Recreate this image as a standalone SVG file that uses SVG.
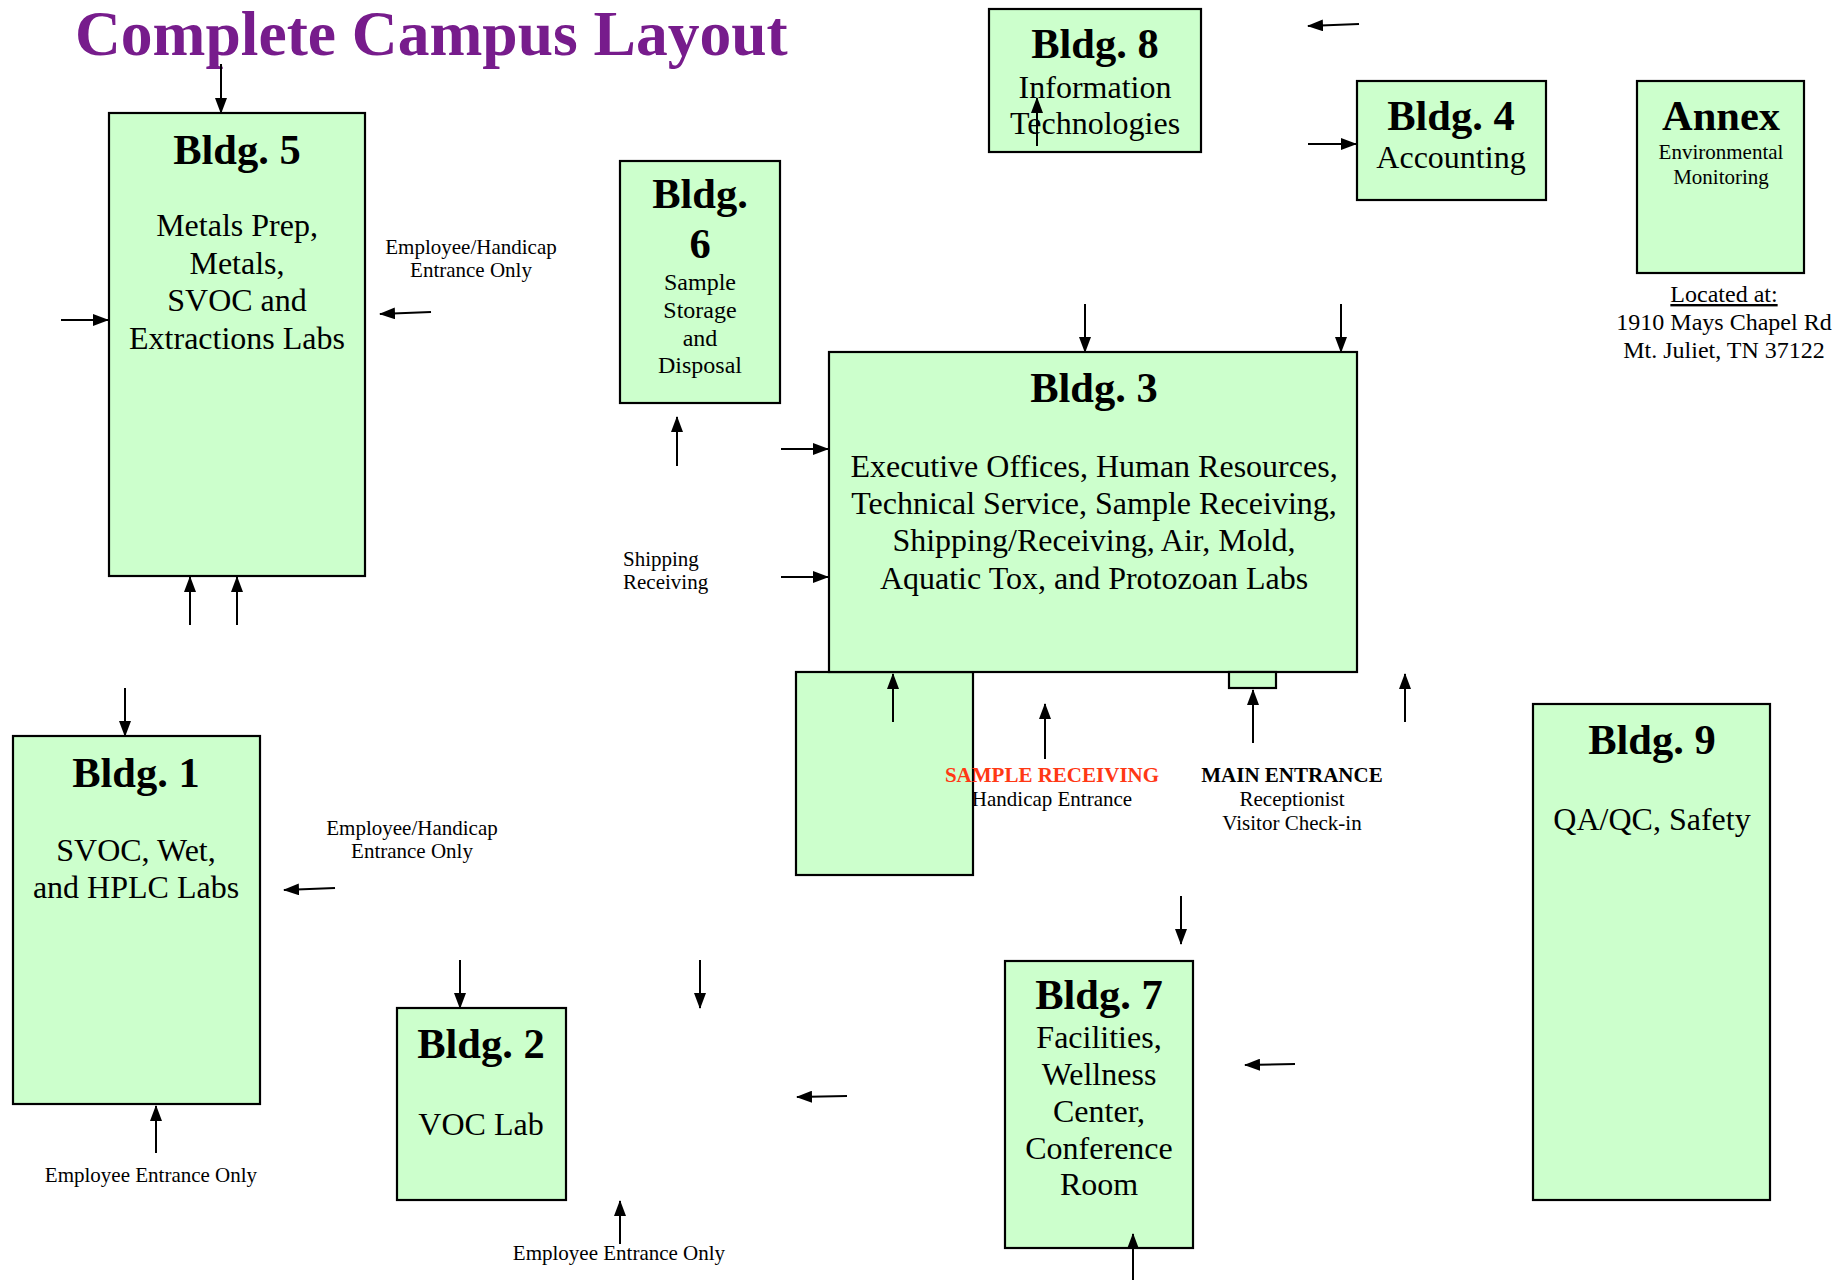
<svg xmlns="http://www.w3.org/2000/svg" width="1836" height="1280" viewBox="0 0 1836 1280">
<style>
.bld{fill:#CCFFCC;stroke:#000;stroke-width:2.2}
text{font-family:"Liberation Serif","Times New Roman",serif;fill:#000}
.t{font-size:42.5px;font-weight:bold;text-anchor:middle}
.b{font-size:32px;text-anchor:middle}
.s{font-size:21px;text-anchor:middle}
.m{font-size:24px;text-anchor:middle}
.c line{stroke:#000;stroke-width:2;marker-end:url(#ah)}
</style>
<defs>
<marker id="ah" markerUnits="userSpaceOnUse" markerWidth="16" markerHeight="12" refX="15" refY="6" orient="auto">
<path d="M0,0 L16,6 L0,12 z" fill="#000"/>
</marker>
</defs>
<rect width="1836" height="1280" fill="#fff"/>
<text x="75" y="55" style="font-size:63.5px;font-weight:bold;fill:#771C8C">Complete Campus Layout</text>

<g id="bldg5">
<rect class="bld" x="109" y="113" width="256" height="463"/>
<text class="t" x="237" y="164">Bldg. 5</text>
<text class="b" x="237" y="236">Metals Prep,</text>
<text class="b" x="237" y="274">Metals,</text>
<text class="b" x="237" y="311">SVOC and</text>
<text class="b" x="237" y="349">Extractions Labs</text>
</g>
<g id="bldg6">
<rect class="bld" x="620" y="161" width="160" height="242"/>
<text class="t" x="700" y="208">Bldg.</text>
<text class="t" x="700" y="258">6</text>
<text class="m" x="700" y="290">Sample</text>
<text class="m" x="700" y="318">Storage</text>
<text class="m" x="700" y="346">and</text>
<text class="m" x="700" y="373">Disposal</text>
</g>
<g id="bldg8">
<rect class="bld" x="989" y="9" width="212" height="143"/>
<text class="t" x="1095" y="58">Bldg. 8</text>
<text class="b" x="1095" y="98">Information</text>
<text class="b" x="1095" y="134">Technologies</text>
</g>
<g id="bldg4">
<rect class="bld" x="1357" y="81" width="189" height="119"/>
<text class="t" x="1451" y="130">Bldg. 4</text>
<text class="b" x="1451" y="168">Accounting</text>
</g>
<g id="annex">
<rect class="bld" x="1637" y="81" width="167" height="192"/>
<text class="t" x="1721" y="130">Annex</text>
<text class="s" x="1721" y="159">Environmental</text>
<text class="s" x="1721" y="184">Monitoring</text>
<text class="m" x="1724" y="302" text-decoration="underline">Located at:</text>
<text class="m" x="1724" y="330">1910 Mays Chapel Rd</text>
<text class="m" x="1724" y="358">Mt. Juliet, TN 37122</text>
</g>
<g id="bldg3">
<rect class="bld" x="796" y="672" width="177" height="203"/>
<rect class="bld" x="829" y="352" width="528" height="320"/>
<rect class="bld" x="1229" y="672" width="47" height="16"/>
<text class="t" x="1094" y="402">Bldg. 3</text>
<text class="b" x="1094" y="477">Executive Offices, Human Resources,</text>
<text class="b" x="1094" y="514">Technical Service, Sample Receiving,</text>
<text class="b" x="1094" y="551">Shipping/Receiving, Air, Mold,</text>
<text class="b" x="1094" y="589">Aquatic Tox, and Protozoan Labs</text>
</g>
<g id="bldg9">
<rect class="bld" x="1533" y="704" width="237" height="496"/>
<text class="t" x="1652" y="754">Bldg. 9</text>
<text class="b" x="1652" y="830">QA/QC, Safety</text>
</g>
<g id="bldg7">
<rect class="bld" x="1005" y="961" width="188" height="287"/>
<text class="t" x="1099" y="1009">Bldg. 7</text>
<text class="b" x="1099" y="1048">Facilities,</text>
<text class="b" x="1099" y="1085">Wellness</text>
<text class="b" x="1099" y="1122">Center,</text>
<text class="b" x="1099" y="1159">Conference</text>
<text class="b" x="1099" y="1195">Room</text>
</g>
<g id="bldg1">
<rect class="bld" x="13" y="736" width="247" height="368"/>
<text class="t" x="136" y="787">Bldg. 1</text>
<text class="b" x="136" y="861">SVOC, Wet,</text>
<text class="b" x="136" y="898">and HPLC Labs</text>
</g>
<g id="bldg2">
<rect class="bld" x="397" y="1008" width="169" height="192"/>
<text class="t" x="481" y="1058">Bldg. 2</text>
<text class="b" x="481" y="1135">VOC Lab</text>
</g>

<g id="labels">
<text class="s" x="471" y="254">Employee/Handicap</text>
<text class="s" x="471" y="277">Entrance Only</text>
<text class="s" x="412" y="835">Employee/Handicap</text>
<text class="s" x="412" y="858">Entrance Only</text>
<text class="s" x="151" y="1182">Employee Entrance Only</text>
<text class="s" x="619" y="1260">Employee Entrance Only</text>
<text x="623" y="566" style="font-size:21px">Shipping</text>
<text x="623" y="589" style="font-size:21px">Receiving</text>
<text class="s" x="1052" y="782" style="font-weight:bold;fill:#FF3814">SAMPLE RECEIVING</text>
<text class="s" x="1052" y="806">Handicap Entrance</text>
<text class="s" x="1292" y="782" style="font-weight:bold">MAIN ENTRANCE</text>
<text class="s" x="1292" y="806">Receptionist</text>
<text class="s" x="1292" y="830">Visitor Check-in</text>
</g>

<g id="connectors" class="c">
<line x1="221" y1="64" x2="221" y2="113"/>
<line x1="61" y1="320" x2="108" y2="320"/>
<line x1="431" y1="312" x2="380" y2="314"/>
<line x1="190" y1="625" x2="190" y2="577"/>
<line x1="237" y1="625" x2="237" y2="577"/>
<line x1="677" y1="466" x2="677" y2="417"/>
<line x1="1037" y1="146" x2="1037" y2="98"/>
<line x1="1359" y1="24" x2="1308" y2="26"/>
<line x1="1308" y1="144" x2="1356" y2="144"/>
<line x1="1085" y1="304" x2="1085" y2="352"/>
<line x1="1341" y1="304" x2="1341" y2="352"/>
<line x1="781" y1="449" x2="828" y2="449"/>
<line x1="781" y1="577" x2="828" y2="577"/>
<line x1="893" y1="722" x2="893" y2="674"/>
<line x1="1045" y1="759" x2="1045" y2="704"/>
<line x1="1253" y1="743" x2="1253" y2="690"/>
<line x1="1405" y1="722" x2="1405" y2="674"/>
<line x1="1181" y1="896" x2="1181" y2="944"/>
<line x1="1295" y1="1064" x2="1245" y2="1065"/>
<line x1="1133" y1="1280" x2="1133" y2="1234"/>
<line x1="125" y1="688" x2="125" y2="736"/>
<line x1="335" y1="888" x2="284" y2="890"/>
<line x1="156" y1="1153" x2="156" y2="1106"/>
<line x1="460" y1="960" x2="460" y2="1008"/>
<line x1="700" y1="960" x2="700" y2="1008"/>
<line x1="847" y1="1096" x2="797" y2="1097"/>
<line x1="620" y1="1244" x2="620" y2="1201"/>
</g>
</svg>
